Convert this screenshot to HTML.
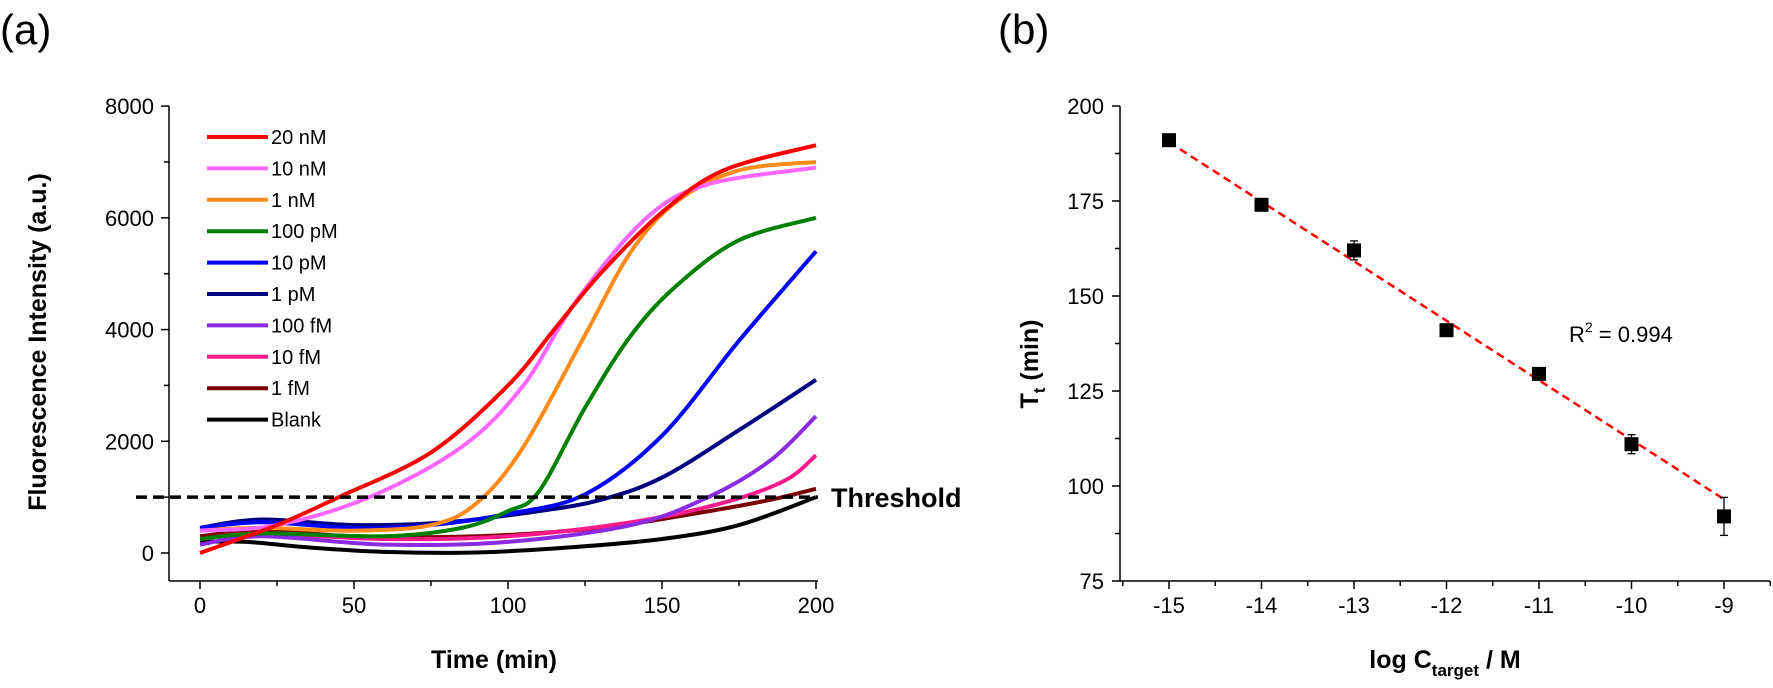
<!DOCTYPE html>
<html><head><meta charset="utf-8"><style>
html,body{margin:0;padding:0;background:#fff;}
svg{display:block;font-family:"Liberation Sans",Arial,sans-serif;}
</style></head><body>
<svg id="s" width="1773" height="688" viewBox="0 0 1773 688" xmlns="http://www.w3.org/2000/svg">
<text x="0" y="44" font-size="42">(a)</text>
<text x="998" y="44" font-size="42">(b)</text>
<g id="L"></g>
<g id="R"></g>
<text transform="translate(46,342) rotate(-90)" text-anchor="middle" font-size="25" font-weight="bold">Fluorescence Intensity (a.u.)</text>
<text x="494" y="668" text-anchor="middle" font-size="25" font-weight="bold">Time (min)</text>
<text x="831" y="507" font-size="27" font-weight="bold">Threshold</text>
<text transform="translate(1038,364) rotate(-90)" text-anchor="middle" font-size="25" font-weight="bold">T<tspan font-size="17" dy="7">t</tspan><tspan dy="-7"> (min)</tspan></text>
<text x="1445" y="668" text-anchor="middle" font-size="25" font-weight="bold">log C<tspan font-size="17" dy="8">target</tspan><tspan dy="-8"> / M</tspan></text>
<text x="1569" y="342" font-size="22">R<tspan font-size="14" dy="-10">2</tspan><tspan dy="10"> = 0.994</tspan></text>
</svg>
<script>
var NS="http://www.w3.org/2000/svg";
function el(p,t,a,txt){var e=document.createElementNS(NS,t);for(var k in a)e.setAttribute(k,a[k]);if(txt!==undefined)e.textContent=txt;p.appendChild(e);return e;}
var L=document.getElementById('L'),R=document.getElementById('R');
function lx(t){return 200+t*3.08;} function ly(F){return 553-F*0.05586;}
el(L,'line',{x1:169,y1:106,x2:169,y2:581,stroke:'#000','stroke-width':1.5});
el(L,'line',{x1:169,y1:581,x2:818,y2:581,stroke:'#000','stroke-width':1.5});
for(var v=0;v<=8000;v+=1000){var y=ly(v);el(L,'line',{x1:v%2000?164:161,y1:y,x2:169,y2:y,stroke:'#000','stroke-width':1.5});
 if(v%2000==0)el(L,'text',{x:154,y:y+8,'text-anchor':'end','font-size':22},v);}
for(var t=0;t<=200;t+=25){var x=lx(t);el(L,'line',{x1:x,y1:581,x2:x,y2:t%50?586:589,stroke:'#000','stroke-width':1.5});
 if(t%50==0)el(L,'text',{x:x,y:613,'text-anchor':'middle','font-size':22},t);}
function path(pts,fx,fy){var P=pts.map(function(p){return [fx(p[0]),fy(p[1])];});
 var d='M'+P[0][0]+','+P[0][1];
 for(var i=0;i<P.length-1;i++){var p0=P[i-1]||P[i],p1=P[i],p2=P[i+1],p3=P[i+2]||P[i+1];
  var c1=[p1[0]+(p2[0]-p0[0])/6,p1[1]+(p2[1]-p0[1])/6],c2=[p2[0]-(p3[0]-p1[0])/6,p2[1]-(p3[1]-p1[1])/6];
  d+=' C'+c1+' '+c2+' '+p2;}
 return d;}
var S=[
['Blank','#000',[[0,200],[15,200],[35,100],[60,20],[90,10],[120,100],[150,250],[175,500],[200,1000]]],
['1 fM','#7b0000',[[0,300],[20,400],[50,300],[90,300],[130,450],[160,700],[185,950],[200,1150]]],
['10 fM','#ff1a8c',[[0,250],[20,350],[60,250],[100,300],[140,550],[170,900],[190,1300],[200,1750]]],
['100 fM','#8a2be2',[[0,150],[20,300],[60,150],[100,200],[140,500],[165,1000],[185,1650],[200,2450]]],
['1 pM','#000080',[[0,450],[20,600],[50,500],[80,550],[110,750],[130,950],[150,1350],[175,2200],[200,3100]]],
['10 pM','#0000ff',[[0,450],[20,550],[50,450],[75,500],[100,700],[125,1050],[150,2100],[175,3800],[200,5400]]],
['100 pM','#008000',[[0,250],[20,350],[60,300],[85,450],[100,750],[110,1100],[125,2600],[140,3900],[155,4800],[175,5600],[200,6000]]],
['1 nM','#ff8c1a',[[0,400],[20,450],[50,400],[75,500],[90,900],[105,1900],[125,3900],[140,5400],[155,6300],[175,6850],[200,7000]]],
['10 nM','#ff66ff',[[0,400],[25,500],[55,1000],[85,1900],[105,3000],[122,4500],[145,6000],[165,6600],[200,6900]]],
['20 nM','#ff0000',[[0,0],[25,500],[45,1000],[75,1800],[100,3000],[115,4000],[130,5000],[150,6100],[170,6850],[200,7300]]]
];
S.forEach(function(s){el(L,'path',{d:path(s[2],lx,ly),fill:'none',stroke:s[1],'stroke-width':4});});
el(L,'line',{x1:136,y1:ly(1000),x2:818,y2:ly(1000),stroke:'#000','stroke-width':3.5,'stroke-dasharray':'11,6'});
var leg=S.slice().reverse();
leg.forEach(function(s,i){var y=137+i*31.4;el(L,'line',{x1:207,y1:y,x2:268,y2:y,stroke:s[1],'stroke-width':4});
 el(L,'text',{x:271,y:y+7,'font-size':20},s[0]);});
function rx(v){return 1169+(v+15)*92.5;} function ry(T){return 106+(200-T)*3.8;}
el(R,'line',{x1:1120,y1:106,x2:1120,y2:581,stroke:'#000','stroke-width':1.5});
el(R,'line',{x1:1120,y1:581,x2:1770,y2:581,stroke:'#000','stroke-width':1.5});
for(var T=75;T<=200;T+=12.5){var y=ry(T);el(R,'line',{x1:T%25?1115:1112,y1:y,x2:1120,y2:y,stroke:'#000','stroke-width':1.5});
 if(T%25==0)el(R,'text',{x:1104,y:y+8,'text-anchor':'end','font-size':22},T);}
for(var v=-15.5;v<=-8.5;v+=0.5){var x=rx(v);var maj=(v%1==0);el(R,'line',{x1:x,y1:581,x2:x,y2:maj?589:586,stroke:'#000','stroke-width':1.5});
 if(maj)el(R,'text',{x:x,y:613,'text-anchor':'middle','font-size':22},v);}
el(R,'line',{x1:rx(-15),y1:ry(190.5),x2:rx(-9),y2:ry(96.5),stroke:'#f00','stroke-width':2.5,'stroke-dasharray':'8,5'});
var D=[[-15,191,1],[-14,174,1],[-13,162,2.5],[-12,141,1],[-11,129.5,1],[-10,111,2.5],[-9,92,5]];
D.forEach(function(d){var x=rx(d[0]);
 if(d[2]>1){el(R,'line',{x1:x,y1:ry(d[1]+d[2]),x2:x,y2:ry(d[1]-d[2]),stroke:'#000','stroke-width':1.3});
  [d[1]+d[2],d[1]-d[2]].forEach(function(e){el(R,'line',{x1:x-4,y1:ry(e),x2:x+4,y2:ry(e),stroke:'#000','stroke-width':1.3});});}
 el(R,'rect',{x:x-7,y:ry(d[1])-7,width:14,height:14,fill:'#000'});});
</script>
</body></html>
